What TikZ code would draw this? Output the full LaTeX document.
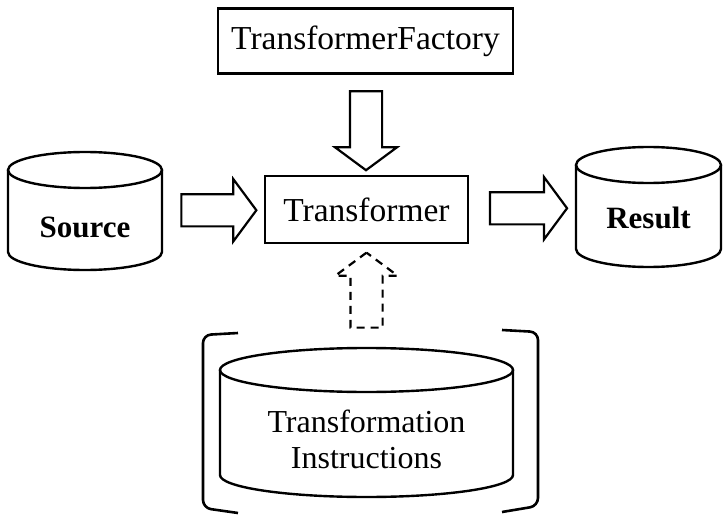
\documentclass[tikz,border=0pt]{standalone}
\usepackage{fontspec}
\setmainfont{Liberation Serif}
\usetikzlibrary{shapes.arrows,calc}

\newcommand{\drum}[3]{%
	\draw[line width=2.4pt] ($(#1.north west)+(0,#3)$) -- ($(#1.south west)-(0,#3)$) arc[start angle=180, end angle=360, x radius=#2pt, y radius=#3pt] -- ($(#1.north east)+(0,#3)$);
	\draw[line width=2.4pt] ($(#1.north)+(0,#3)$) ellipse[x radius=#2pt, y radius=#3pt];
}

\begin{document}
\begin{tikzpicture}[x=1pt, y=-1pt,
	boxnode/.style={draw, line width=2.4pt, inner sep=0pt, font=\fontsize{33.5}{36}\selectfont},
	drum/.style={inner sep=0pt, outer sep=0pt},
	tag/.style={font=\fontsize{31}{36}\selectfont\bfseries},
	caption/.style={align=center, font=\fontsize{32}{36}\selectfont},
	fat/.style={single arrow, draw, line width=2.2pt, inner sep=15pt, minimum width=60pt, single arrow head extend=15pt, single arrow tip angle=107},
	bracket/.style={line width=2.6pt, rounded corners=8pt}]
	\useasboundingbox (0,0) rectangle (723,516);
	\node[boxnode, minimum width=295pt, minimum height=65pt] (fac) at (365.5,41) {TransformerFactory};
	\node[boxnode, minimum width=203pt, minimum height=67pt] (tr) at (366.5,209.5) {Transformer};
	\node[drum, minimum width=154pt, minimum height=118pt] (src) at (85,211) {};
	\drum{src}{77}{18}
	\node[tag] (srclabel) at ($(src.center)+(0,16)$) {Source};
	\node[drum, minimum width=145pt, minimum height=120pt] (res) at (648.5,207) {};
	\drum{res}{72.5}{18}
	\node[tag] (reslabel) at ($(res.center)+(0,11)$) {Result};
	\node[drum, minimum width=293pt, minimum height=149pt] (ins) at (366.5,422.5) {};
	\drum{ins}{146.5}{22}
	\node[caption] (inslabel) at ($(ins.center)+(0,17)$) {Transformation\\Instructions};
	\draw[bracket] (238,333) -- (203,335) -- (203,508) -- (238,513);
	\draw[bracket] (502,330) -- (538,332) -- (538,506) -- (502,512);
	\node[fat, minimum height=75pt] (a1) at ($(src.east)!0.5!(tr.west)$) {};
	\node[fat, minimum height=77pt] (a2) at ($(tr.east)!0.5!(res.west)$) {};
	\node[fat, minimum height=79pt, rotate=-90] (a3) at ($(fac.south)!0.5!(tr.north)$) {};
	\node[fat, dash pattern=on 8pt off 6pt, minimum height=75pt, rotate=90] (a4) at ($(tr.south)!0.5!(ins.north)$) {};
\end{tikzpicture}
\end{document}
